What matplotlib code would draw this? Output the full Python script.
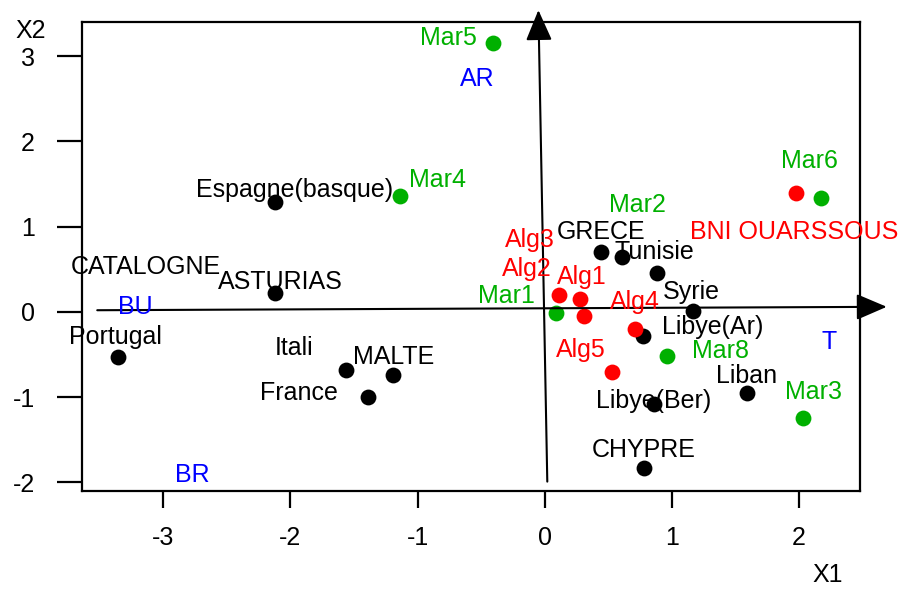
import matplotlib
matplotlib.use("Agg")
import matplotlib.pyplot as plt

plt.rcParams['font.family'] = ['Liberation Sans', 'DejaVu Sans']

# ---- data (factor-map coordinates) ----
black_x = [-2.12, -2.12, -3.36, -1.56, -1.19, -1.39, 0.44, 0.61, 0.88, 1.17, 0.77, 0.86, 1.59, 0.78]
black_y = [1.29, 0.22, -0.53, -0.68, -0.74, -1.00, 0.70, 0.65, 0.46, 0.01, -0.28, -1.08, -0.95, -1.83]

red_x = [0.11, 0.28, 0.31, 0.71, 0.53, 1.98]
red_y = [0.20, 0.15, -0.05, -0.20, -0.70, 1.39]

green_x = [0.09, 0.96, 2.03, 2.17, -0.41, -1.14]
green_y = [-0.01, -0.52, -1.24, 1.34, 3.15, 1.36]

black_labels = ["Espagne(basque)", "CATALOGNE", "ASTURIAS", "Portugal", "Itali", "MALTE",
                "France", "GRECE", "Tunisie", "Syrie", "Libye(Ar)", "Liban", "Libye(Ber)", "CHYPRE"]
black_lx = [-1.97, -3.14, -2.08, -3.38, -1.97, -1.19, -1.93, 0.44, 0.86, 1.15, 1.32, 1.59, 0.86, 0.78]
black_ly = [1.43, 0.53, 0.35, -0.29, -0.42, -0.53, -0.95, 0.94, 0.70, 0.23, -0.18, -0.75, -1.04, -1.62]

red_labels = ["BNI OUARSSOUS", "Alg3", "Alg2", "Alg1", "Alg4", "Alg5"]
red_lx = [1.96, -0.12, -0.14, 0.29, 0.71, 0.28]
red_ly = [0.94, 0.84, 0.50, 0.41, 0.12, -0.45]

green_labels = ["Mar5", "Mar4", "Mar2", "Mar6", "Mar1", "Mar8", "Mar3"]
green_lx = [-0.76, -0.84, 0.73, 2.08, -0.30, 1.38, 2.11]
green_ly = [3.21, 1.55, 1.25, 1.77, 0.19, -0.46, -0.94]

blue_labels = ["AR", "BU", "BR", "T"]
blue_lx = [-0.53, -3.22, -2.77, 2.24]
blue_ly = [2.73, 0.06, -1.91, -0.35]

# axis arrows (start, end) in data units
h_arrow = [(-3.52, 0.02), (2.69, 0.06)]
v_arrow = [(0.02, -1.99), (-0.05, 3.54)]

x_ticks = [-3, -2, -1, 0, 1, 2]
y_ticks = [-2, -1, 0, 1, 2, 3]

# ---- figure ----
fig = plt.figure(figsize=(9, 5.89), dpi=100)
ax = fig.add_axes([0.0911, 0.1664, 0.8645, 0.7962])
ax.set_xlim(-3.64, 2.48)
ax.set_ylim(-2.10, 3.40)

FS = 18
GREEN = "#00b000"
ms = 130

ax.scatter(black_x, black_y, s=ms, color="black", zorder=3, linewidths=0)
ax.scatter(red_x, red_y, s=ms, color="red", zorder=3, linewidths=0)
ax.scatter(green_x, green_y, s=ms, color=GREEN, zorder=3, linewidths=0)

for labels, lx, ly, col in [(black_labels, black_lx, black_ly, "black"),
                            (red_labels, red_lx, red_ly, "red"),
                            (green_labels, green_lx, green_ly, GREEN),
                            (blue_labels, blue_lx, blue_ly, "blue")]:
    for t, xx, yy in zip(labels, lx, ly):
        ax.text(xx, yy, t, color=col, fontsize=FS, ha="center", va="center",
                zorder=4, clip_on=False)

for (s, e) in [h_arrow, v_arrow]:
    ax.annotate("", xy=e, xytext=s, xycoords="data", textcoords="data",
                annotation_clip=False,
                arrowprops=dict(arrowstyle="-|>,head_length=0.7,head_width=0.3",
                                mutation_scale=27, lw=1.5,
                                color="black", shrinkA=0, shrinkB=0))

for sp in ax.spines.values():
    sp.set_linewidth(1.6)

ax.set_xticks(x_ticks)
ax.set_yticks(y_ticks)
ax.set_xticklabels([str(v) for v in x_ticks])
ax.set_yticklabels([str(v) for v in y_ticks])
ax.tick_params(axis="x", direction="out", length=12, width=1.6, pad=13, labelsize=FS)
ax.tick_params(axis="y", direction="out", length=18, width=1.6, pad=16, labelsize=FS)

fig.text(31 / 900, 1 - 31 / 589, "X2", fontsize=FS, ha="center", va="center")
fig.text(828 / 900, 1 - 575 / 589, "X1", fontsize=FS, ha="center", va="center")

fig.savefig("out.png", dpi=100)
